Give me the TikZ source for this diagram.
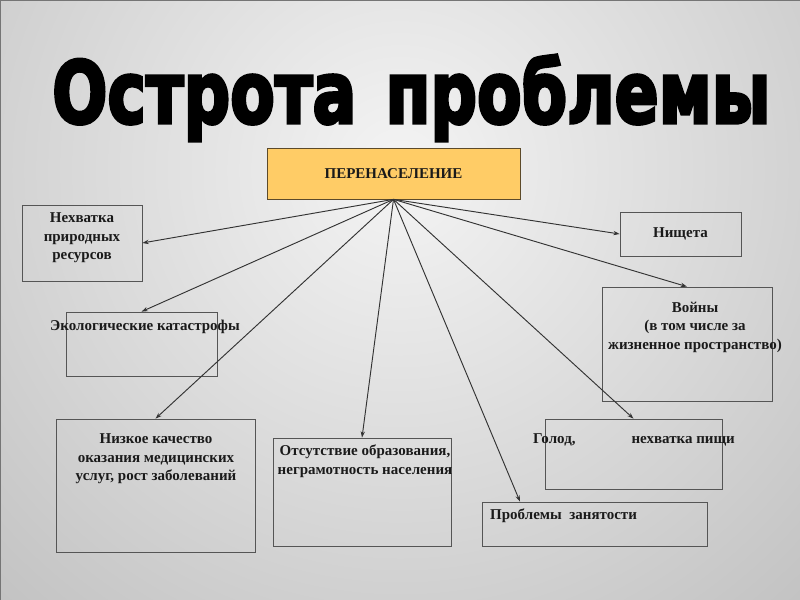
\documentclass[tikz,border=0pt]{standalone}
\usepackage{fontspec}
\usepackage{graphicx}
\setmainfont{Liberation Serif}
\newfontfamily\titlefont[BoldFeatures={FakeBold=4}]{DejaVu Sans}
\usetikzlibrary{positioning,arrows.meta,calc}
\definecolor{BgLight}{HTML}{F4F4F4}
\definecolor{BgDark}{HTML}{929292}
\definecolor{BoxEdge}{HTML}{555555}
\definecolor{TopFill}{HTML}{FFCC66}
\definecolor{TopEdge}{HTML}{5C4A2A}
\definecolor{LineDark}{HTML}{333333}
\definecolor{TextDark}{HTML}{1A1A1A}

\begin{document}
\begin{tikzpicture}[x=0.3mm,y=-0.3mm,
    every node/.style={font=\fontsize{12.8}{15.8}\selectfont\bfseries,text=TextDark},
    box/.style={draw=BoxEdge,line width=0.6pt,inner sep=0pt},
    txt/.style={align=center,inner sep=0pt},
    ar/.style={-{Stealth[length=1.9mm,width=1.3mm]},line width=0.8pt,LineDark}]
  \useasboundingbox (0,0) rectangle (800,600);
  % background
  \begin{scope}
    \clip (0,0) rectangle (800,600);
    \shade[inner color=BgLight,outer color=BgDark] (400,170) circle (351mm);
  \end{scope}
  \draw[BgDark!80!black,line width=0.8pt] (0,0) rectangle (800,600);

  \node[anchor=base west,inner sep=0pt,text=black] (title) at (52,123)
    {\resizebox{215.4mm}{20.4mm}{\titlefont\bfseries Острота\hspace{0.45em}проблемы}};

  \node[box,draw=TopEdge,fill=TopFill,minimum width=75.9mm,minimum height=15.3mm]
    (over) at (393.5,173.5) {ПЕРЕНАСЕЛЕНИЕ};

  % boxes
  \node[box,minimum width=36mm,  minimum height=22.8mm] (res)  at (82,243)    {};
  \node[box,minimum width=45.3mm,minimum height=19.2mm] (eco)  at (141.5,344) {};
  \node[box,minimum width=59.7mm,minimum height=39.9mm] (med)  at (155.5,485.5) {};
  \node[box,minimum width=53.4mm,minimum height=32.4mm] (edu)  at (362,492)   {};
  \node[box,minimum width=67.5mm,minimum height=13.2mm] (job)  at (594.5,524) {};
  \node[box,minimum width=53.1mm,minimum height=21mm]   (food) at (633.5,454) {};
  \node[box,minimum width=51mm,  minimum height=34.2mm] (war)  at (687,344)   {};
  \node[box,minimum width=36.3mm,minimum height=13.2mm] (pov)  at (680.5,234) {Нищета};

  % texts
  \node[txt] (resT) at (82,238) {Нехватка\\ природных\\ ресурсов};
  \node[txt] (ecoT) at (145,327) {Экологические катастрофы};
  \node[txt] (medT) at (156,459) {Низкое качество\\ оказания медицинских\\ услуг, рост заболеваний};
  \node[txt] (eduT) at (365,461) {Отсутствие образования,\\ неграмотность населения};
  \node[txt,anchor=west] (jobT) at (490,516) {Проблемы\ \ занятости};
  \node[txt,anchor=west] (foodT) at (533,440) {Голод,\hspace{16.8mm}нехватка пищи};
  \node[txt] (warT) at (695,327) {Войны\\ (в том числе за\\ жизненное пространство)};

  \coordinate (jobin) at ($(job.north west)!0.17!(job.north east)$);
  \foreach \t in {res.east,eco.north,med.north,edu.north,jobin,food.north,war.north,pov.west}
    \draw[ar] (over.south) -- (\t);
\end{tikzpicture}
\end{document}
